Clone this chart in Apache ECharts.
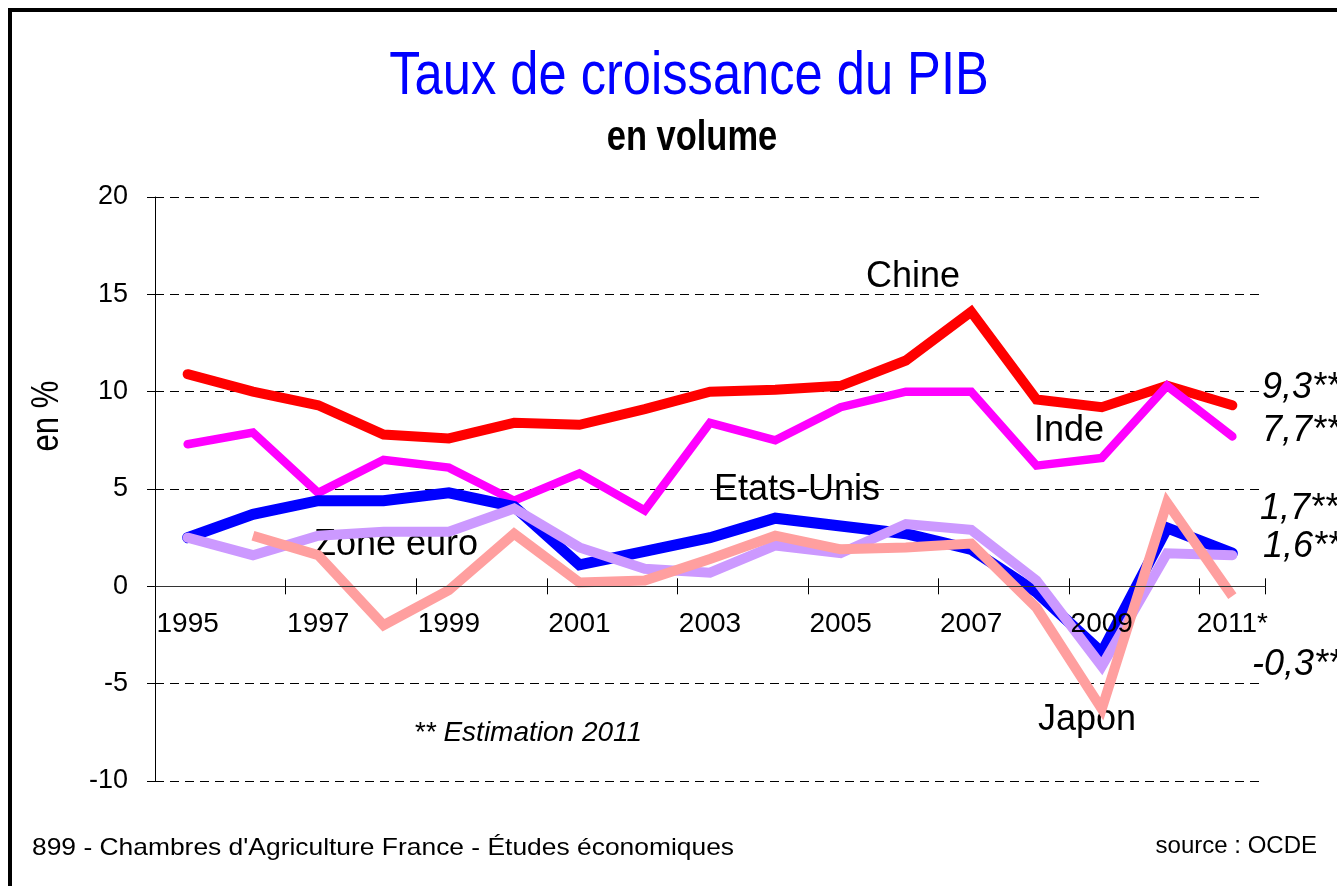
<html>
<head>
	<meta http-equiv="Content-Type" content="text/html; charset=UTF-8">
	<title>Taux de croissance du PIB</title>
	<style>
		html, body { margin: 0; padding: 0; background: #fff; }
	</style>
</head>
	<body>
		<div id="chartpib" style="width:1337px; height:886px;"></div>

        <script type="text/javascript" src="https://cdn.jsdelivr.net/npm/echarts@6/dist/echarts.min.js"></script>
        <script type="text/javascript">

    // années et libellés de l'axe
    var annees = ['1995','1996','1997','1998','1999','2000','2001','2002','2003','2004','2005','2006','2007','2008','2009','2010','2011'];
    var etiquettesX = ['1995','1996','1997','1998','1999','2000','2001','2002','2003','2004','2005','2006','2007','2008','2009','2010','2011*'];

    // taux de croissance en %
    var chine     = [10.9, 10.0, 9.3, 7.8, 7.6, 8.4, 8.3, 9.1, 10.0, 10.1, 10.3, 11.6, 14.1, 9.6, 9.2, 10.3, 9.3];
    var inde      = [7.3, 7.9, 4.8, 6.5, 6.1, 4.4, 5.8, 3.9, 8.4, 7.5, 9.2, 10.0, 10.0, 6.2, 6.6, 10.3, 7.7];
    var etatsUnis = [2.5, 3.7, 4.4, 4.4, 4.8, 4.1, 1.1, 1.8, 2.5, 3.5, 3.1, 2.7, 1.9, -0.3, -3.4, 3.0, 1.7];
    var zoneEuro  = [2.5, 1.6, 2.6, 2.8, 2.8, 4.0, 2.0, 0.9, 0.7, 2.1, 1.7, 3.2, 2.9, 0.3, -4.1, 1.7, 1.6];
    var japon     = ['-', 2.6, 1.6, -2.0, -0.2, 2.7, 0.2, 0.3, 1.4, 2.6, 1.9, 2.0, 2.2, -1.1, -6.3, 4.3, -0.5];

    var ticksY = [-10, -5, 0, 5, 10, 15, 20];

    var fonte = "'Liberation Sans', Arial, sans-serif";

    var grille = { left: 155, right: 72, top: 197, bottom: 105 };
    var hauteurGrille = 886 - grille.top - grille.bottom;
    // l'axe des années passe par 0 : on le remonte depuis le bas de la grille
    var decalageZero = -hauteurGrille * (0 - ticksY[0]) / (ticksY[ticksY.length - 1] - ticksY[0]);

    var myChart = echarts.init(document.getElementById('chartpib'));

    function ligne(nom, data, couleur, largeur, cap){
        return {
            name: nom,
            type: 'line',
            data: data,
            xAxisIndex: 0,
            symbol: 'none',
            lineStyle: { color: couleur, width: largeur, cap: cap, join: 'miter' },
            itemStyle: { color: couleur },
            animation: false,
            silent: true
        };
    }

    // texte libre ; sx = compression horizontale (police étroite)
    function texte(t, x, y, taille, opts){
        opts = opts || {};
        return {
            type: 'text',
            x: x, y: y,
            rotation: opts.rotation || 0,
            scaleX: opts.sx || 1,
            silent: true,
            style: {
                text: t,
                fill: opts.color || '#000',
                font: (opts.style || 'normal') + ' ' + (opts.weight || 'normal') + ' ' + taille + 'px ' + fonte,
                textAlign: opts.align || 'center',
                textVerticalAlign: 'middle'
            }
        };
    }

    var option = {
        animation: false,
        backgroundColor: '#fff',
        grid: { left: grille.left, right: grille.right, top: grille.top, bottom: grille.bottom, containLabel: false },
        xAxis: [
            {
                type: 'category',
                data: etiquettesX,
                position: 'bottom',
                offset: decalageZero,
                z: 10,
                boundaryGap: true,
                axisLine: { onZero: false, lineStyle: { color: '#333', width: 1.2 } },
                axisTick: { show: true, interval: 1, length: 8, lineStyle: { color: '#000' } },
                axisLabel: { interval: 1, margin: 24, fontSize: 28, color: '#000', fontFamily: fonte },
                splitLine: { show: false }
            },
            {
                // moitié haute des graduations
                type: 'category',
                data: etiquettesX,
                position: 'bottom',
                offset: decalageZero,
                boundaryGap: true,
                axisLine: { onZero: false, show: false },
                axisTick: { show: true, inside: true, interval: 1, length: 8, lineStyle: { color: '#000' } },
                axisLabel: { show: false },
                splitLine: { show: false }
            }
        ],
        yAxis: {
            type: 'value',
            min: ticksY[0],
            max: ticksY[ticksY.length - 1],
            interval: 5,
            axisLine: { show: true, lineStyle: { color: '#000', width: 1 } },
            axisTick: { show: true, length: 8, lineStyle: { color: '#000' } },
            axisLabel: { margin: 27, fontSize: 27, color: '#000', fontFamily: fonte },
            splitLine: { show: true, lineStyle: { color: '#000', width: 1, type: [9, 6] } }
        },
        series: [
            ligne('Chine', chine, '#ff0000', 10, 'round'),
            ligne('Inde', inde, '#ff00ff', 8.5, 'round'),
            ligne('Etats-Unis', etatsUnis, '#0000ff', 11, 'round'),
            ligne('Zone euro', zoneEuro, '#cc99ff', 10, 'round'),
            ligne('Japon', japon, '#ff9f9f', 10, 'butt')
        ],
        graphic: [
            // cadre
            { type: 'rect', shape: { x: 10, y: 10, width: 1400, height: 1000 }, style: { fill: null, stroke: '#000', lineWidth: 4 }, silent: true },
            // titres
            texte('Taux de croissance du PIB', 689, 77, 61, { color: '#0000ff', sx: 0.83 }),
            texte('en volume', 692, 138, 42, { weight: 'bold', sx: 0.82 }),
            texte('en %', 48, 416, 38, { rotation: Math.PI / 2, sx: 0.82 }),
            // noms des séries
            texte('Chine', 913, 277, 36),
            texte('Inde', 1069, 431, 36),
            texte('Etats-Unis', 797, 490, 36),
            texte('Zone euro', 396, 545, 36),
            texte('Japon', 1087, 720, 36),
            // estimations 2011
            texte('9,3**', 1262, 388, 36, { style: 'italic', align: 'left' }),
            texte('7,7**', 1262, 431, 36, { style: 'italic', align: 'left' }),
            texte('1,7**', 1260, 509, 36, { style: 'italic', align: 'left' }),
            texte('1,6**', 1263, 547, 36, { style: 'italic', align: 'left' }),
            texte('-0,3**', 1252, 665, 36, { style: 'italic', align: 'left' }),
            texte('** Estimation 2011', 528, 733, 28, { style: 'italic' }),
            // pied
            texte("899 - Chambres d'Agriculture France - Études économiques", 32, 848, 24, { align: 'left', sx: 1.1 }),
            texte('source : OCDE', 1317, 846, 24, { align: 'right' })
        ]
    };

    myChart.setOption(option, true);
	</script>
    </body>
</html>
